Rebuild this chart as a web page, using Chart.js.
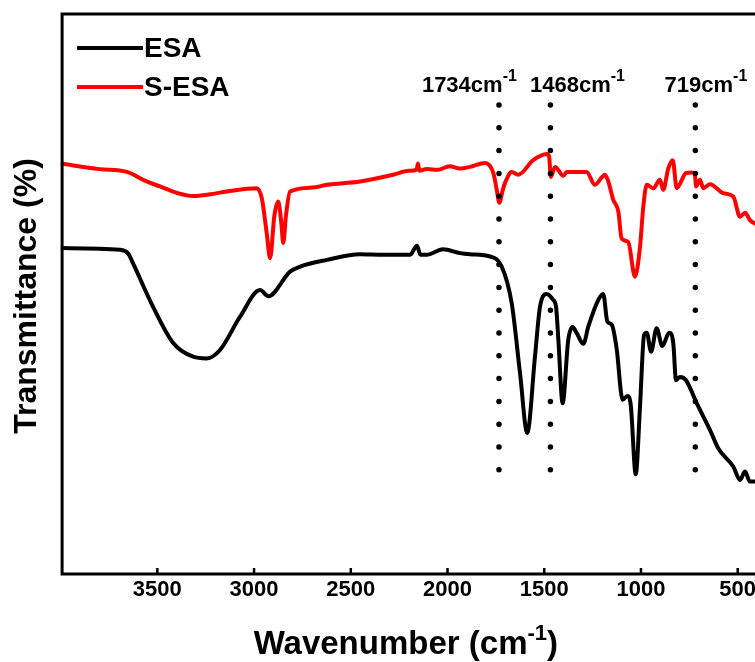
<!DOCTYPE html>
<html>
<head>
<meta charset="utf-8">
<script src="https://cdn.jsdelivr.net/npm/chart.js@4"></script>
<style>
    html, body { margin: 0; padding: 0; background: #fff; overflow: hidden; }
    #wrap { width: 775px; height: 662px; }
</style>
</head>
<body>
<div id="wrap"><canvas id="ftirChart" width="775" height="662"></canvas></div>
<script>
// FT-IR spectra, wavenumber in cm-1, transmittance in arbitrary units (no y ticks shown)
const esaWavenumber = [4000, 3693, 3650, 3626, 3522, 3419, 3315, 3245, 3176, 3073, 2969, 2926, 2814, 2762, 2624, 2452, 2333, 2194, 2158, 2140, 2108, 2023, 1935, 1884, 1780, 1720, 1668, 1625, 1588, 1548, 1522, 1487, 1455, 1439, 1427, 1405, 1376, 1353, 1332, 1298, 1272, 1221, 1195, 1174, 1151, 1126, 1095, 1071, 1053, 1027, 1005, 984, 970, 948, 919, 890, 854, 833, 819, 798, 767, 712, 643, 600, 523, 488, 462, 437, 411, 400];
const esaValues = [58.2, 57.9, 57.2, 55.5, 47.7, 41.3, 38.8, 38.5, 40.0, 45.9, 50.7, 49.6, 54.0, 54.9, 56.1, 57.1, 57.0, 57.0, 58.6, 57.0, 57.0, 58.0, 57.3, 57.1, 56.7, 54.9, 48.3, 35.8, 25.2, 38.8, 47.7, 50.0, 49.0, 47.7, 41.8, 30.5, 41.8, 44.1, 43.0, 41.1, 44.2, 48.9, 50.0, 45.1, 44.5, 40.3, 31.1, 31.8, 30.2, 17.8, 29.9, 42.7, 43.1, 39.7, 43.9, 40.7, 43.1, 41.2, 34.6, 35.2, 34.6, 30.5, 25.7, 22.4, 19.2, 16.8, 18.3, 16.5, 16.5, 16.4];

const sesaWavenumber = [4000, 3800, 3658, 3555, 3486, 3403, 3315, 3228, 3141, 2986, 2960, 2935, 2917, 2895, 2875, 2860, 2849, 2835, 2814, 2700, 2624, 2452, 2282, 2200, 2160, 2153, 2145, 2108, 2050, 1990, 1935, 1884, 1806, 1763, 1745, 1732, 1715, 1703, 1668, 1634, 1557, 1487, 1475, 1466, 1444, 1401, 1384, 1281, 1238, 1203, 1186, 1169, 1143, 1117, 1100, 1066, 1031, 1005, 988, 970, 936, 902, 885, 859, 836, 815, 767, 738, 722, 715, 695, 678, 643, 575, 523, 488, 462, 437, 411, 400];
const sesaValues = [73.3, 72.3, 71.8, 70.1, 69.2, 68.1, 67.5, 67.8, 68.3, 68.9, 67.1, 61.0, 56.4, 64.0, 66.5, 63.0, 59.1, 64.0, 68.3, 69.0, 69.5, 70.1, 71.3, 72.0, 72.2, 73.3, 72.0, 72.3, 72.2, 72.8, 72.4, 72.7, 73.4, 71.6, 68.5, 66.3, 68.5, 69.8, 71.8, 71.3, 73.9, 75.0, 74.6, 70.9, 72.7, 71.1, 71.8, 71.8, 69.5, 70.8, 71.3, 70.1, 66.8, 64.7, 59.9, 59.3, 53.1, 58.4, 65.6, 69.5, 68.9, 70.4, 68.6, 72.4, 73.9, 68.9, 71.6, 71.7, 71.5, 69.2, 70.4, 68.9, 69.6, 68.0, 67.4, 63.8, 64.5, 63.2, 62.6, 62.5];

const seriesNames = ["ESA", "S-ESA"];
const seriesColors = ["#000000", "#ff0000"];

// dotted marker lines and their labels
const markerWavenumber = [1734, 1468, 719];
const markerLabels = ["1734cm", "1468cm", "719cm"];
const markerLabelCenter = [1887, 1328, 664];
const markerRange = [83.75, 17.5];

const xTickValues = [3500, 3000, 2500, 2000, 1500, 1000, 500];

const FONT = "'Liberation Sans', Arial, sans-serif";

const toPoints = (xs, ys) => xs.map((w, i) => ({ x: w, y: ys[i] }));

// text with a superscript part, centred on cx
const drawSup = (ctx, base, sup, tail, cx, baseline, size, supSize, supRise) => {
    ctx.font = `bold ${size}px ${FONT}`;
    const wBase = ctx.measureText(base).width;
    const wTail = ctx.measureText(tail).width;
    ctx.font = `bold ${supSize}px ${FONT}`;
    const wSup = ctx.measureText(sup).width;
    let x0 = cx - (wBase + wSup + wTail) / 2;
    ctx.textAlign = "left";
    ctx.textBaseline = "alphabetic";
    ctx.font = `bold ${size}px ${FONT}`;
    ctx.fillText(base, x0, baseline);
    ctx.font = `bold ${supSize}px ${FONT}`;
    ctx.fillText(sup, x0 + wBase, baseline - supRise);
    ctx.font = `bold ${size}px ${FONT}`;
    ctx.fillText(tail, x0 + wBase + wSup, baseline);
};

const decor = {
    id: "decor",
    afterDatasetsDraw(chart) {
        const { ctx, chartArea: a, scales: { x } } = chart;
        ctx.save();

        // frame
        ctx.strokeStyle = "#000";
        ctx.lineWidth = 3;
        ctx.strokeRect(a.left + 1.5, a.top, a.right - a.left, a.bottom - a.top);

        // inward ticks
        ctx.lineWidth = 2.5;
        xTickValues.forEach((v) => {
            const px = x.getPixelForValue(v);
            ctx.beginPath();
            ctx.moveTo(px, a.bottom);
            ctx.lineTo(px, a.bottom - 6);
            ctx.stroke();
        });

        ctx.fillStyle = "#000";

        // marker labels
        markerLabels.forEach((t, i) => {
            drawSup(ctx, t, "-1", "", x.getPixelForValue(markerLabelCenter[i]), 92, 22, 16, 11);
        });

        // legend
        chart.data.datasets.slice(0, 2).forEach((ds, i) => {
            const ly = 48 + i * 39;
            ctx.strokeStyle = ds.borderColor;
            ctx.lineWidth = 4;
            ctx.beginPath();
            ctx.moveTo(77, ly);
            ctx.lineTo(143, ly);
            ctx.stroke();
            ctx.font = `bold 28px ${FONT}`;
            ctx.textAlign = "left";
            ctx.textBaseline = "middle";
            ctx.fillText(ds.label, 144, ly + 1);
        });

        // axis titles
        drawSup(ctx, "Wavenumber (cm", "-1", ")", (a.left + a.right) / 2 - 3, 654, 33, 22, 14);

        ctx.translate(27, (a.top + a.bottom) / 2 + 2);
        ctx.rotate(-Math.PI / 2);
        ctx.font = `bold 32px ${FONT}`;
        ctx.textAlign = "center";
        ctx.textBaseline = "middle";
        ctx.fillText("Transmittance (%)", 0, 0);

        ctx.restore();
    },
};

const markerSets = markerWavenumber.map((w) => ({
    label: "",
    data: [{ x: w, y: markerRange[0] }, { x: w, y: markerRange[1] }],
    borderColor: "#000",
    borderWidth: 5.5,
    borderDash: [0, 22.8],
    borderCapStyle: "round",
    pointRadius: 0,
    order: 0,
}));

new Chart(document.getElementById("ftirChart"), {
    type: "line",
    data: {
        datasets: [
            {
                label: seriesNames[0],
                data: toPoints(esaWavenumber, esaValues),
                borderColor: seriesColors[0],
                borderWidth: 4,
                pointRadius: 0,
                cubicInterpolationMode: "monotone",
                order: 2,
            },
            {
                label: seriesNames[1],
                data: toPoints(sesaWavenumber, sesaValues),
                borderColor: seriesColors[1],
                borderWidth: 4,
                pointRadius: 0,
                cubicInterpolationMode: "monotone",
                order: 1,
            },
            ...markerSets,
        ],
    },
    options: {
        responsive: false,
        animation: false,
        layout: { padding: { left: 60.6, top: 14, right: 17.95, bottom: 0 } },
        plugins: {
            legend: { display: false },
            tooltip: { enabled: false },
        },
        scales: {
            x: {
                type: "linear",
                reverse: true,
                min: 400,
                max: 4000,
                grid: { display: false, drawTicks: false },
                border: { display: false },
                afterBuildTicks: (scale) => {
                    scale.ticks = xTickValues.map((v) => ({ value: v }));
                },
                afterFit: (scale) => {
                    scale.height = 88;
                },
                ticks: {
                    color: "#000",
                    padding: 3,
                    maxRotation: 0,
                    font: { family: FONT, size: 22, weight: "bold" },
                    callback: (value) => String(value),
                },
            },
            y: {
                display: false,
                min: 0,
                max: 100,
            },
        },
    },
    plugins: [decor],
});
</script>
</body>
</html>
